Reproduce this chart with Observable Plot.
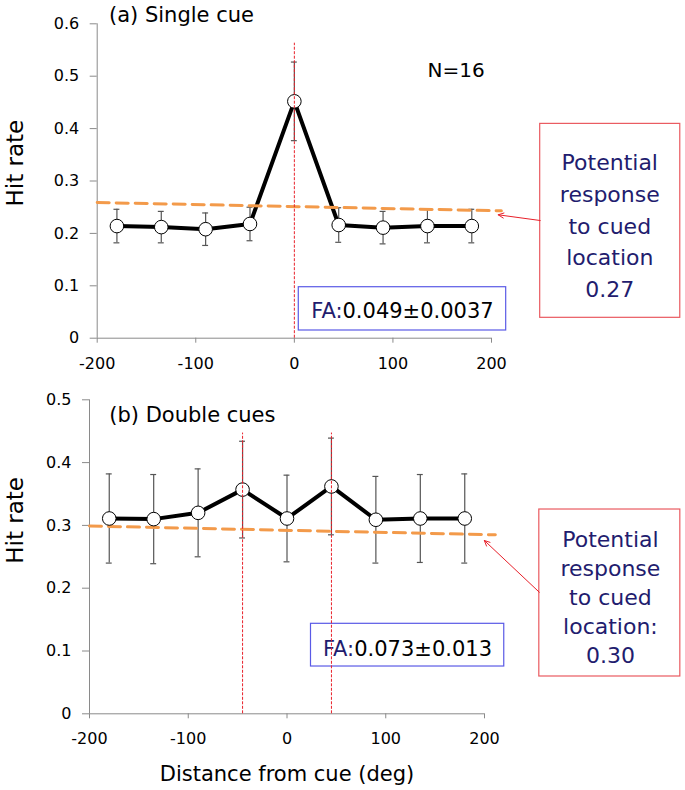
<!DOCTYPE html>
<html>
<head>
<meta charset="utf-8">
<script src="https://cdn.jsdelivr.net/npm/d3@7"></script>
<script src="https://cdn.jsdelivr.net/npm/@observablehq/plot@0.6"></script>
<style>
  html, body { margin: 0; padding: 0; background: #fff; }
  #chart svg { display: block; }
</style>
</head>
<body>
<div id="chart"></div>
<script>
// ---------- data ----------
const distances = [-180, -135, -90, -45, 0, 45, 90, 135, 180];
const hitSingle = [0.214, 0.212, 0.208, 0.218, 0.452, 0.216, 0.211, 0.214, 0.214];
const errSingle = [0.032, 0.030, 0.031, 0.032, 0.075, 0.033, 0.031, 0.032, 0.032];
const hitDouble = [0.311, 0.310, 0.320, 0.357, 0.311, 0.362, 0.309, 0.311, 0.311];
const errDouble = [0.071, 0.071, 0.070, 0.077, 0.069, 0.077, 0.069, 0.070, 0.071];

const cuesSingle = [0];
const cuesDouble = [-45, 45];
const cueLineTopSingle = 0.563;
const cueLineTopDouble = 0.447;

const trendSingleX = [-200, 210];
const trendSingleY = [0.259, 0.243];
const trendDoubleX = [-200, 211];
const trendDoubleY = [0.299, 0.285];

const xTicks = [-200, -100, 0, 100, 200];
const yTicksSingle = [0, 0.1, 0.2, 0.3, 0.4, 0.5, 0.6];
const yTicksDouble = [0, 0.1, 0.2, 0.3, 0.4, 0.5];

const titleSingle = "(a) Single cue";
const titleDouble = "(b) Double cues";
const faSingle = "FA:0.049±0.0037";
const faDouble = "FA:0.073±0.013";
const noteSingle = "Potential\nresponse\nto cued\nlocation\n0.27";
const noteDouble = "Potential\nresponse\nto cued\nlocation:\n0.30";
const nLabel = "N=16";
const yLabel = "Hit rate";
const xLabel = "Distance from cue (deg)";

// ---------- colours ----------
const NAVY = "#221c6e";
const AXIS = "#8a8a8a";
const ERR = "#555";
const ORANGE = "#f39a4a";
const CUE_RED = "#e8202a";
const BOX_RED = "#ea5a60";
const BOX_BLUE = "#5a5ae6";

const rows = (ys, es) => distances.map((x, i) => ({x, y: ys[i], e: es[i]}));
const trend = (xs, ys) => xs.map((x, i) => ({x, y: ys[i]}));

function panel(o) {
  const data = rows(o.hit, o.err);
  return Plot.plot({
    width: 685,
    height: o.height,
    marginLeft: o.ml,
    marginRight: 685 - o.xr,
    marginTop: o.mt,
    marginBottom: o.mb,
    style: {fontFamily: "'DejaVu Sans', sans-serif", fontSize: "16px", color: "#000", background: "#fff", overflow: "visible"},
    x: {domain: [-200, 200]},
    y: {domain: o.yDomain},
    marks: [
      Plot.ruleY([0], {stroke: AXIS, strokeWidth: 1}),
      Plot.ruleX([-200], {stroke: AXIS, strokeWidth: 1}),
      Plot.axisY({ticks: o.yTicks, tickSize: 7, tickPadding: 11, tickFormat: d => String(d), stroke: AXIS, fill: "#000", label: null, fontSize: 16}),
      Plot.axisX({ticks: xTicks, tickSize: 5, tickPadding: 14, tickFormat: d => String(d), stroke: AXIS, fill: "#000", label: null, fontSize: 16}),
      // FA box
      Plot.rect([o.fa], {x1: "x1", x2: "x2", y1: "y1", y2: "y2", fill: "#fff", stroke: BOX_BLUE, strokeWidth: 1.2}),
      Plot.text([o.fa], {x: "tx", y: "ty", text: "text", fontSize: 21, fill: "#000", textAnchor: "middle", lineAnchor: "middle"}),
      // error bars
      Plot.ruleX(data, {x: "x", y1: d => d.y - d.e, y2: d => d.y + d.e, stroke: ERR, strokeWidth: 1.2}),
      Plot.ruleY(data, {y: d => d.y + d.e, x1: d => d.x - 3, x2: d => d.x + 3, stroke: ERR, strokeWidth: 1.2}),
      Plot.ruleY(data, {y: d => d.y - d.e, x1: d => d.x - 3, x2: d => d.x + 3, stroke: ERR, strokeWidth: 1.2}),
      // series line
      Plot.line(data, {x: "x", y: "y", stroke: "#000", strokeWidth: 4, strokeLinejoin: "miter"}),
      // potential response trend
      Plot.line(o.trend, {x: "x", y: "y", stroke: ORANGE, strokeWidth: 3, strokeDasharray: "12,7"}),
      // markers
      Plot.dot(data, {x: "x", y: "y", r: 6.8, fill: "#fff", stroke: "#000", strokeWidth: 1}),
      // cue lines
      Plot.ruleX(o.cues, {y1: 0, y2: o.cueTop, stroke: CUE_RED, strokeWidth: 1, strokeDasharray: "3,1.5"}),
      // title
      Plot.text([o.title], {x: o.titleX, y: o.titleY, textAnchor: "start", lineAnchor: "middle", fontSize: 21, fill: "#000"}),
      // note box + arrow
      Plot.rect([o.note], {x1: "x1", x2: "x2", y1: "y1", y2: "y2", fill: "#fff", stroke: BOX_RED, strokeWidth: 1.2}),
      Plot.text([o.note], {x: "tx", y: "ty", text: "text", fontSize: 22, fill: NAVY, textAnchor: "middle", lineAnchor: "middle", lineHeight: o.note.lh}),
      Plot.arrow([o.arrow], {x1: "x1", y1: "y1", x2: "x2", y2: "y2", stroke: CUE_RED, strokeWidth: 1, headLength: 9, headAngle: 50, bend: 0}),
      // axis labels and extras
      Plot.text([yLabel], {frameAnchor: "left", rotate: -90, dx: o.yLabelDx, dy: o.yLabelDy, fontSize: 23, fill: "#000"}),
      ...(o.extra || [])
    ]
  });
}

const panelA = panel({
  height: 390, ml: 96.7, xr: 491, mt: 23.3, mb: 52.3,
  yDomain: [0, 0.6], yTicks: yTicksSingle,
  hit: hitSingle, err: errSingle,
  trend: trend(trendSingleX, trendSingleY),
  cues: cuesSingle, cueTop: cueLineTopSingle,
  title: titleSingle, titleX: -188, titleY: 0.617,
  fa: {x1: 4.5, x2: 214.9, y1: 0.0147, y2: 0.0973, tx: 109.7, ty: 0.0505, text: faSingle},
  note: {x1: 249.4, x2: 391.5, y1: 0.0389, y2: 0.409, tx: 320, ty: 0.219, text: noteSingle, lh: 1.44},
  arrow: {x1: 249.4, y1: 0.2246, x2: 206.8, y2: 0.2355},
  yLabelDx: -81.7, yLabelDy: 25.5,
  extra: [
    Plot.text([nLabel], {x: 164, y: 0.511, fontSize: 20, fill: "#000", textAnchor: "middle", lineAnchor: "middle"})
  ]
});

const panelB = panel({
  height: 400, ml: 89, xr: 484, mt: 9.3, mb: 76.7,
  yDomain: [0, 0.5], yTicks: yTicksDouble,
  hit: hitDouble, err: errDouble,
  trend: trend(trendDoubleX, trendDoubleY),
  cues: cuesDouble, cueTop: cueLineTopDouble,
  title: titleDouble, titleX: -180, titleY: 0.475,
  fa: {x1: 24.3, x2: 220, y1: 0.0753, y2: 0.1433, tx: 122, ty: 0.1035, text: faDouble},
  note: {x1: 255.5, x2: 398.3, y1: 0.0594, y2: 0.3253, tx: 327.5, ty: 0.188, text: noteDouble, lh: 1.32},
  arrow: {x1: 255.5, y1: 0.1936, x2: 199.8, y2: 0.276},
  yLabelDx: -74.3, yLabelDy: 7,
  extra: [
    Plot.text([xLabel], {frameAnchor: "bottom", dy: 60, fontSize: 21, fill: "#000", lineAnchor: "middle"})
  ]
});

// colour the "FA:" prefix navy
for (const svg of [panelA, panelB]) {
  svg.querySelectorAll("text").forEach(t => {
    const s = t.textContent;
    if (s.startsWith("FA:") && t.children.length === 0) {
      t.textContent = "";
      const ns = "http://www.w3.org/2000/svg";
      const a = document.createElementNS(ns, "tspan");
      a.setAttribute("fill", NAVY);
      a.textContent = "FA:";
      const b = document.createElementNS(ns, "tspan");
      b.textContent = s.slice(3);
      t.appendChild(a);
      t.appendChild(b);
    }
  });
}

document.getElementById("chart").append(panelA, panelB);
</script>
</body>
</html>
